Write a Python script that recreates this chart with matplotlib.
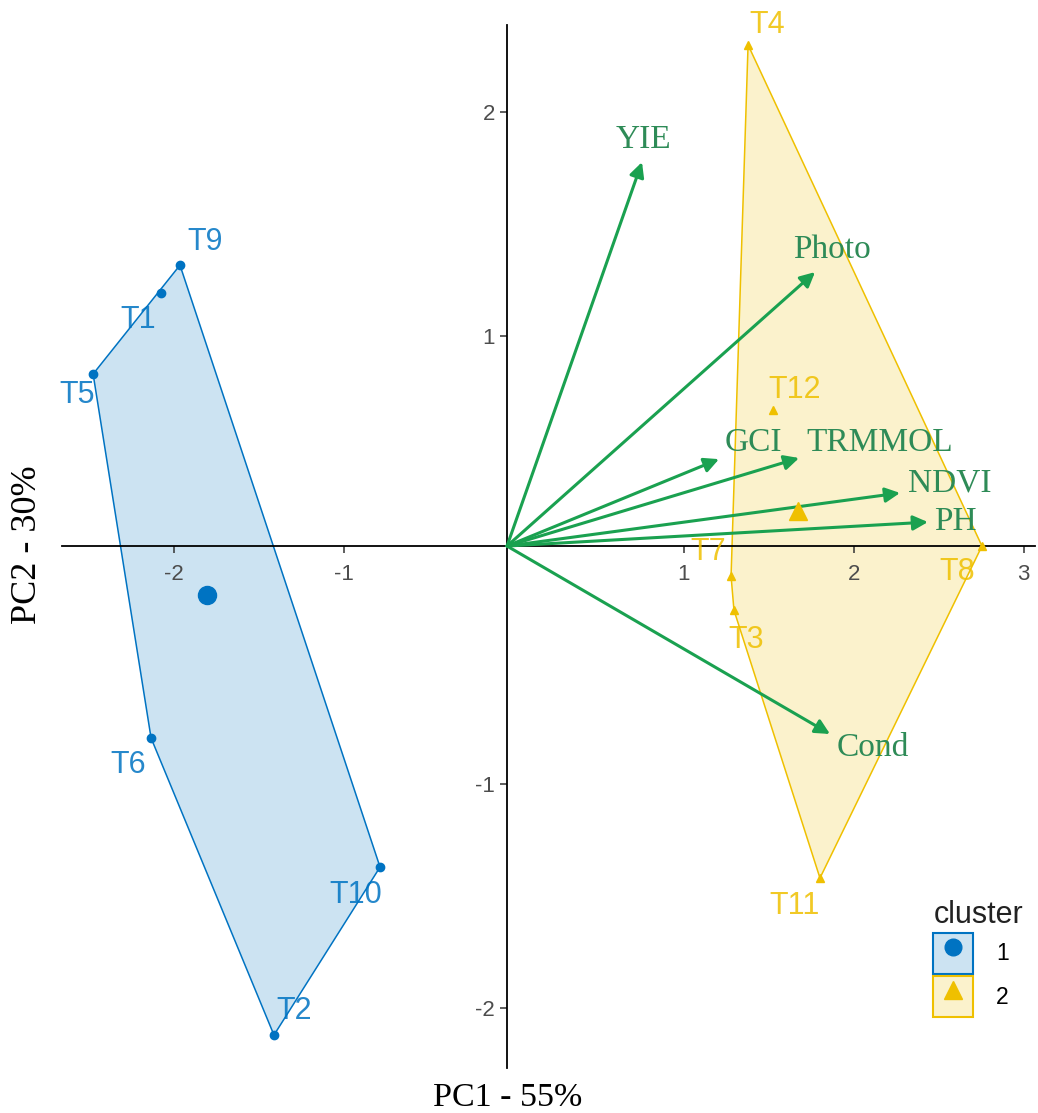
import matplotlib
matplotlib.use("Agg")
import matplotlib.pyplot as plt
from matplotlib.colors import to_rgba
from matplotlib.lines import Line2D
from matplotlib.patches import Patch, Polygon
from matplotlib.legend_handler import HandlerTuple

plt.rcParams["axes.unicode_minus"] = False

# ---- data ---------------------------------------------------------------
NAMES_1 = ["T1", "T2", "T5", "T6", "T9", "T10"]
PC1_1 = [-2.035, -1.371, -2.435, -2.094, -1.924, -0.747]
PC2_1 = [1.129, -2.183, 0.768, -0.857, 1.254, -1.433]

NAMES_2 = ["T3", "T4", "T7", "T8", "T11", "T12"]
PC1_2 = [1.335, 1.418, 1.318, 2.794, 1.841, 1.565]
PC2_2 = [-0.286, 2.237, -0.134, 0.0, -1.482, 0.607]

VARS = ["YIE", "Photo", "GCI", "TRMMOL", "NDVI", "PH", "Cond"]
VAR_PC1 = [0.794, 1.812, 1.247, 1.718, 2.312, 2.476, 1.900]
VAR_PC2 = [1.714, 1.223, 0.388, 0.393, 0.237, 0.107, -0.839]

XTICKS = [-2, -1, 1, 2, 3]
YTICKS = [-2, -1, 1, 2]
XLABEL = "PC1 - 55%"
YLABEL = "PC2 - 30%"

# ---- styling ---------------------------------------------------------------
BLUE = "#0073C2"
YELLOW = "#EFC000"
GREEN = "#1aa150"
GREEN_TXT = "#2e8b57"
SANS = "Liberation Sans"
SERIF = "Liberation Serif"
# the source image has its tick marks sitting slightly off the drawn origin
TICK_SHIFT_X = 0.04
TICK_SHIFT_Y = -0.063

# label nudges in pixels (x right, y up)
NUDGE_1 = {"T1": (-23, -27), "T2": (20, 24), "T5": (-16, -21),
           "T6": (-23, -27), "T9": (25, 23), "T10": (-24, -28)}
NUDGE_2 = {"T3": (12, -30), "T4": (19, 20), "T7": (-23, 24),
           "T8": (-25, -26), "T11": (-25, -28), "T12": (22, 20)}
NUDGE_VAR = {"YIE": (1, 22), "Photo": (17, 22), "GCI": (34, 16),
             "TRMMOL": (81, 15), "NDVI": (50, 10), "PH": (27, 0),
             "Cond": (43, -14)}


def hull(xs, ys):
    pts = sorted(zip(xs, ys))

    def cross(o, a, b):
        return (a[0] - o[0]) * (b[1] - o[1]) - (a[1] - o[1]) * (b[0] - o[0])

    lower, upper = [], []
    for p in pts:
        while len(lower) >= 2 and cross(lower[-2], lower[-1], p) <= 0:
            lower.pop()
        lower.append(p)
    for p in reversed(pts):
        while len(upper) >= 2 and cross(upper[-2], upper[-1], p) <= 0:
            upper.pop()
        upper.append(p)
    return lower[:-1] + upper[:-1]


fig = plt.figure(figsize=(10.38, 11.13), dpi=100)
ax = fig.add_axes([62 / 1038, 45 / 1113, 973 / 1038, 1043 / 1113])
ax.set_xlim(-2.618, 3.106)
ax.set_ylim(-2.330, 2.326)

clusters = [(NAMES_1, PC1_1, PC2_1, BLUE, "o", NUDGE_1),
            (NAMES_2, PC1_2, PC2_2, YELLOW, "^", NUDGE_2)]

for names, xs, ys, col, mk, nudge in clusters:
    ax.add_patch(Polygon(hull(xs, ys), closed=True,
                         facecolor=to_rgba(col, 0.2), edgecolor=col,
                         lw=1.1, zorder=1))
    ax.plot(xs, ys, ls="", marker=mk, color=col, ms=6, zorder=4)
    # cluster centre
    ax.plot(sum(xs) / len(xs), sum(ys) / len(ys), ls="", marker=mk,
            color=col, ms=13, zorder=4)
    for n, x, y in zip(names, xs, ys):
        ax.annotate(n, (x, y), xytext=nudge[n], textcoords="offset pixels",
                    ha="center", va="center", fontsize=22, color=col,
                    alpha=0.85, family=SANS, zorder=5)

for v, x, y in zip(VARS, VAR_PC1, VAR_PC2):
    ax.annotate("", xy=(x, y), xytext=(0, 0),
                arrowprops=dict(arrowstyle="-|>", color=GREEN, lw=2.2,
                                mutation_scale=22, shrinkA=0, shrinkB=0),
                zorder=3)
    ax.annotate(v, (x, y), xytext=NUDGE_VAR[v], textcoords="offset pixels",
                ha="center", va="center", fontsize=24, color=GREEN_TXT,
                family=SERIF, zorder=5)

# axes through the origin
for side in ["top", "right"]:
    ax.spines[side].set_visible(False)
ax.spines["left"].set_position(("data", 0))
ax.spines["bottom"].set_position(("data", 0))
for side in ["left", "bottom"]:
    ax.spines[side].set_linewidth(1.3)
    ax.spines[side].set_zorder(2.5)
ax.set_xticks([t + TICK_SHIFT_X for t in XTICKS], [str(t) for t in XTICKS])
ax.set_yticks([t + TICK_SHIFT_Y for t in YTICKS], [str(t) for t in YTICKS])
ax.tick_params(labelsize=16, labelcolor="#4d4d4d", length=5, width=1.1,
               color="#333333")
ax.tick_params(axis="x", pad=8)
for lab in ax.get_xticklabels() + ax.get_yticklabels():
    lab.set_family(SANS)
ax.patch.set_visible(False)

fig.text(508 / 1038, 1 - 1098 / 1113, XLABEL, ha="center", va="center",
         fontsize=24.5, family=SERIF)
fig.text(28 / 1038, 1 - 545 / 1113, YLABEL, ha="center", va="center",
         rotation=90, fontsize=26, family=SERIF)

handles = [
    (Patch(facecolor=to_rgba(BLUE, 0.2), edgecolor=BLUE, lw=1.5),
     Line2D([], [], ls="", marker="o", color=BLUE, ms=12)),
    (Patch(facecolor=to_rgba(YELLOW, 0.2), edgecolor=YELLOW, lw=1.5),
     Line2D([], [], ls="", marker="^", color=YELLOW, ms=13)),
]
leg = fig.legend(handles, ["1", "2"], title="cluster", loc="upper left",
                 bbox_to_anchor=(915 / 1038, 1 - 882 / 1113), frameon=False,
                 handler_map={tuple: HandlerTuple(ndivide=1, pad=0)},
                 handlelength=1.75, handleheight=2.35, labelspacing=0.12,
                 handletextpad=1.0, alignment="left", borderpad=0.3,
                 prop={"family": SANS, "size": 16.5},
                 title_fontproperties={"family": SANS, "size": 22})
leg.get_title().set_color("#222222")

fig.savefig("out.png", dpi=100)
